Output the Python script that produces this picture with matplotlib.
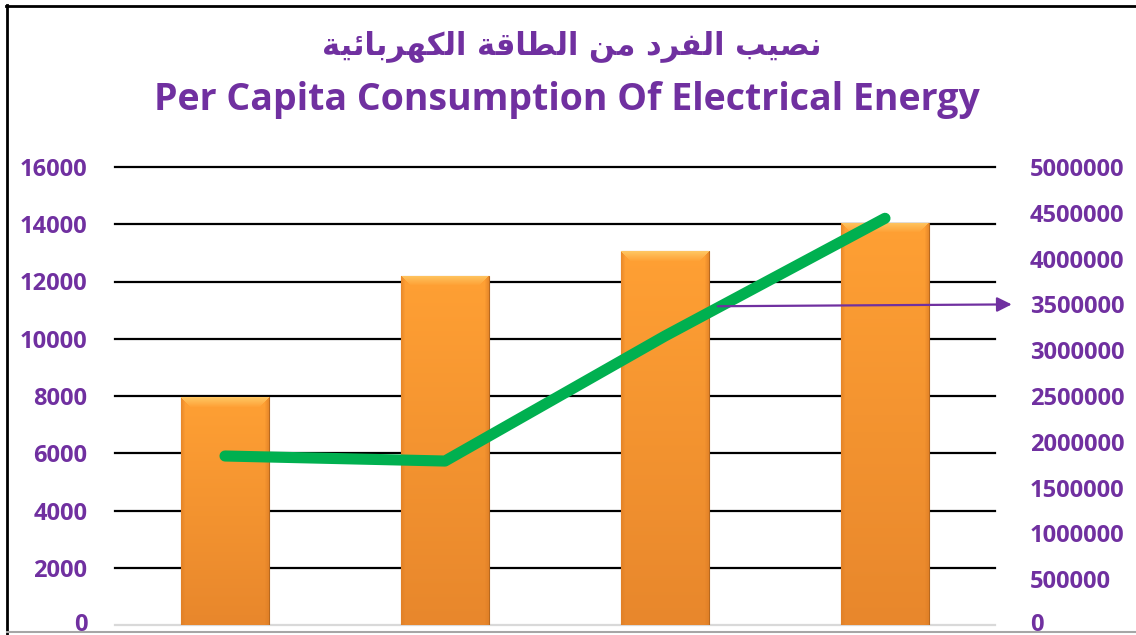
import numpy as np
import matplotlib
matplotlib.use("Agg")
import matplotlib.pyplot as plt
from matplotlib.lines import Line2D
from matplotlib.ticker import FuncFormatter
from matplotlib.transforms import ScaledTranslation

# Data
categories = ["1", "2", "3", "4"]
per_capita_kwh = [7950, 12200, 13050, 14050]        # bars, left axis
total_energy = [1845000, 1790000, 3155000, 4440000]  # line, right axis
arrow_value = 3500000

title_ar = "نصيب الفرد من الطاقة الكهربائية"
title_en = "Per Capita Consumption Of Electrical Energy"

PURPLE = "#7030A0"
GREEN = "#00B050"

# Minimal Arabic shaping: presentation forms (iso, fin, ini, med)
FORMS = {
    "ا": (0xFE8D, 0xFE8E, None, None),
    "ب": (0xFE8F, 0xFE90, 0xFE91, 0xFE92),
    "ة": (0xFE93, 0xFE94, None, None),
    "د": (0xFEA9, 0xFEAA, None, None),
    "ر": (0xFEAD, 0xFEAE, None, None),
    "ص": (0xFEB9, 0xFEBA, 0xFEBB, 0xFEBC),
    "ط": (0xFEC1, 0xFEC2, 0xFEC3, 0xFEC4),
    "ف": (0xFED1, 0xFED2, 0xFED3, 0xFED4),
    "ق": (0xFED5, 0xFED6, 0xFED7, 0xFED8),
    "ك": (0xFED9, 0xFEDA, 0xFEDB, 0xFEDC),
    "ل": (0xFEDD, 0xFEDE, 0xFEDF, 0xFEE0),
    "م": (0xFEE1, 0xFEE2, 0xFEE3, 0xFEE4),
    "ن": (0xFEE5, 0xFEE6, 0xFEE7, 0xFEE8),
    "ه": (0xFEE9, 0xFEEA, 0xFEEB, 0xFEEC),
    "ي": (0xFEF1, 0xFEF2, 0xFEF3, 0xFEF4),
    "ئ": (0xFE89, 0xFE8A, 0xFE8B, 0xFE8C),
}


def shape_arabic(text):
    out = []
    for i, ch in enumerate(text):
        if ch not in FORMS:
            out.append(ch)
            continue
        prev = text[i - 1] if i > 0 else ""
        nxt = text[i + 1] if i + 1 < len(text) else ""
        f = FORMS[ch]
        join_prev = prev in FORMS and FORMS[prev][2] is not None
        join_next = nxt in FORMS and f[2] is not None
        if join_prev and join_next:
            code = f[3]
        elif join_prev:
            code = f[1]
        elif join_next:
            code = f[2]
        else:
            code = f[0]
        out.append(chr(code))
    return "".join(out)[::-1]


W, H, DPI = 1136, 635, 100
fig = plt.figure(figsize=(W / DPI, H / DPI), dpi=DPI)
fig.patch.set_facecolor("white")

# axes box in pixels: x 115..995, y 167..625
ax = fig.add_axes([115 / W, 1 - 625 / H, 880 / W, 458 / H])
ax2 = ax.twinx()

x = np.arange(len(categories))
ax.set_xlim(-0.5, len(categories) - 0.5)
ax.set_ylim(0, 16000)
ax2.set_ylim(0, 5000000)
ax.set_yticks(np.arange(0, 16001, 2000))
ax2.set_yticks(np.arange(0, 5000001, 500000))
ax2.yaxis.set_major_formatter(FuncFormatter(lambda v, p: f"{v:.0f}"))
ax.set_xticks([])

ax.set_axisbelow(True)
ax.grid(axis="y", color="black", lw=1.6)
for gl in ax.get_ygridlines():
    gl.set_clip_on(False)
ax.get_ygridlines()[0].set_color("#d9d9d9")
for a in (ax, ax2):
    for s in a.spines.values():
        s.set_visible(False)
    a.tick_params(axis="y", length=0, labelsize=17, labelcolor=PURPLE)
ax.tick_params(axis="y", pad=20)
ax2.tick_params(axis="y", pad=25)
for lab in ax.get_yticklabels() + ax2.get_yticklabels():
    lab.set_fontfamily("Open Sans")
    lab.set_fontweight("bold")

# lift the two "0" labels a touch so they sit above the bottom frame
lift = ScaledTranslation(0, 3 / DPI, fig.dpi_scale_trans)
zero_left = ax.yaxis.get_major_ticks()[0].label1
zero_right = ax2.yaxis.get_major_ticks()[0].label2
zero_left.set_transform(zero_left.get_transform() + lift)
zero_right.set_transform(zero_right.get_transform() + lift)

# Bars with a bevelled gradient fill
bars = ax.bar(x, per_capita_kwh, width=0.4, color="#F7962F", edgecolor="#B8691F",
              lw=0.8, zorder=2)
top_c = np.array([255, 160, 52]) / 255
bot_c = np.array([232, 135, 44]) / 255
light = np.array([255, 200, 100]) / 255
side = np.array([220, 124, 36]) / 255
for b in bars:
    (px0, py0) = ax.transData.transform((b.get_x(), 0))
    (px1, py1) = ax.transData.transform((b.get_x() + b.get_width(), b.get_height()))
    w_px = int(round(px1 - px0))
    h_px = int(round(py1 - py0))
    rows = np.arange(h_px)[:, None] * np.ones((1, w_px))
    cols = np.ones((h_px, 1)) * np.arange(w_px)[None, :]
    t = (rows / max(h_px - 1, 1))[..., None]
    img = top_c * (1 - t) + bot_c * t
    d_top = rows
    d_side = np.minimum(cols, w_px - 1 - cols)
    bev = 10
    top_band = (d_top < bev) & (d_top <= d_side)
    side_band = (d_side < 4) & (d_side < d_top)
    k = (1 - d_top / bev)[..., None] * 0.95
    img = np.where(top_band[..., None], img * (1 - k) + light * k, img)
    ks = (1 - d_side / 4)[..., None] * 0.6
    img = np.where(side_band[..., None], img * (1 - ks) + side * ks, img)
    im = ax.imshow(img, extent=(b.get_x(), b.get_x() + b.get_width(), 0, b.get_height()),
                   aspect="auto", interpolation="bilinear", zorder=2.5, origin="upper")
    im.set_clip_path(b)
ax.set_xlim(-0.5, len(categories) - 0.5)
ax.set_ylim(0, 16000)

# Line on the secondary axis
ax2.plot(x, total_energy, color=GREEN, lw=8, solid_capstyle="round",
         solid_joinstyle="round", zorder=3)
ax2.annotate("", xy=(1.019, arrow_value), xycoords=("axes fraction", "data"),
             xytext=(2.24, arrow_value - 20000), textcoords="data",
             arrowprops=dict(arrowstyle="-|>", color=PURPLE, lw=1.6,
                             mutation_scale=22, shrinkA=0, shrinkB=0),
             annotation_clip=False, zorder=4)

# Titles
fig.text(572 / W, 1 - 46 / H, shape_arabic(title_ar), ha="center", va="center",
         color=PURPLE, fontsize=22, fontweight="bold", family=["DejaVu Sans"])
fig.text(567 / W, 1 - 100 / H, title_en, ha="center", va="center",
         color=PURPLE, fontsize=27, fontweight="bold", family=["Open Sans"])

# Outer frame: black on top/left, grey along the bottom
fig.add_artist(Line2D([6 / W, 1], [1 - 5.5 / H] * 2, transform=fig.transFigure,
                      color="black", lw=2))
fig.add_artist(Line2D([7 / W] * 2, [0, 1 - 5 / H], transform=fig.transFigure,
                      color="black", lw=2))
fig.add_artist(Line2D([7 / W, 1], [1 - 631.5 / H] * 2, transform=fig.transFigure,
                      color="#a6a6a6", lw=1.5))

fig.savefig("out.png", dpi=DPI)
